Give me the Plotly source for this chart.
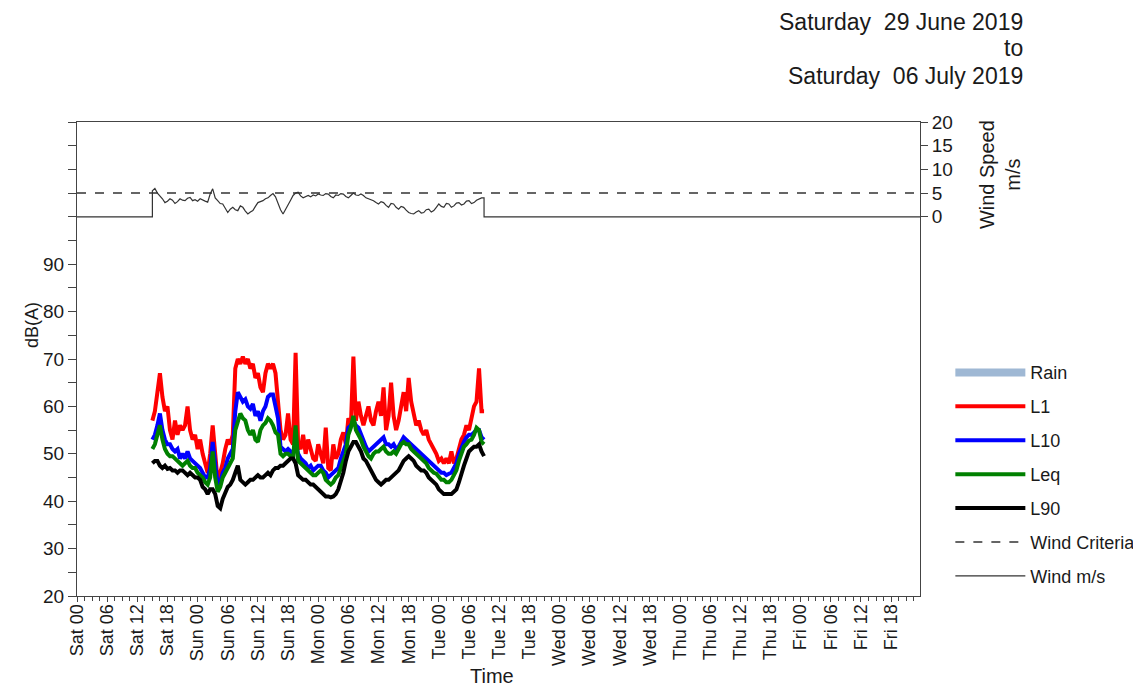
import pandas as pd
import plotly.graph_objects as go

# ---------------- data ----------------
AXIS_START = "2019-06-29 00:00"
AXIS_END = "2019-07-05 23:45"
DATA_START = "2019-06-29 15:00"
STEP = "30min"

L1 = [57, 59, 63, 67, 62, 59, 60, 55, 53, 57,
      54, 56, 55, 56, 60, 55, 53, 54, 51, 53,
      50, 48, 46, 50, 56, 50, 44, 46, 48, 51,
      53, 52, 54, 68, 70, 69, 70.5, 69, 70, 68,
      69, 66, 67, 64, 63, 67, 69, 68, 69, 67,
      60, 55, 53, 54, 58.5, 53, 52, 71.3, 52, 51,
      54, 50, 53, 51, 49, 48.5, 52, 50, 48, 55.5,
      47, 46.5, 52, 49, 50, 53, 54.5, 52, 57.5, 56,
      70.5, 57, 61, 58, 56, 58, 60, 57, 56, 59,
      61, 58, 64, 55, 58, 65, 58, 55, 57, 60,
      63, 59, 66, 61, 58, 56, 57, 55, 54, 55,
      53, 52, 51, 50, 48.5, 49, 48, 49, 48, 50.5,
      48, 49, 51, 53, 54, 56, 55, 58, 60, 61,
      68, 59, 59]

L10 = [53, 54, 56, 58.5, 55, 53, 52, 52, 51, 50.5,
       51, 49, 50, 49, 50.5, 49, 48.5, 48, 47.5, 47,
       46, 45, 45, 47, 52.5, 47, 43.5, 44, 46, 47,
       49, 50, 51, 59, 63, 62, 61, 61.5, 60, 59.5,
       60.5, 58, 59, 57, 59, 60, 62, 62.5, 62.5, 60,
       57.5, 51.5, 51, 50.5, 51, 50.5, 50, 52.5, 50, 49,
       48.5, 48, 47, 47.5, 46.5, 47, 47.5, 47.5, 46.5, 46,
       45, 45.5, 46, 46.5, 47, 49, 50.5, 52, 55.5, 56,
       57, 56, 55.5, 54, 53, 51.5, 50.5, 51, 51.5, 52,
       52.5, 53, 53.5, 52, 52, 51.5, 52, 51, 51.5, 52.5,
       53.5, 53, 52.5, 52, 51.5, 51, 50.5, 50, 49.5, 49,
       48.5, 48, 47.5, 47, 46.5, 46, 46, 45.5, 45.8, 46,
       47, 48, 50, 51.5, 52.5, 53.5, 54, 54, 54.5, 55,
       55, 53.5, 53]

LEQ = [51, 52, 54, 56, 53, 51, 50, 49.5, 49.5, 49,
       48.5, 48, 47.5, 48, 48.5, 47.5, 47, 47, 46, 45.5,
       45, 44, 43.5, 45, 50.5, 45, 42, 43, 45, 46,
       47, 48, 49, 55, 57, 58.5, 57.5, 57, 55, 54,
       55, 53, 52.5, 55, 56, 56.5, 57.5, 57, 56, 54.5,
       54, 50, 49.5, 50, 50, 49.5, 49, 56, 48.5, 48,
       47.5, 47, 46.5, 46, 45.5, 45.5, 46, 46.5, 46, 44.5,
       44, 43.5, 44, 45, 45.5, 47, 48.5, 50, 54, 55.5,
       58, 55, 54, 53, 51.5, 50.5, 49.5, 49, 50, 50.5,
       50.5, 51, 51.5, 50.5, 50, 50, 50.5, 50, 51, 52,
       52.5, 52, 52, 51, 50.5, 50, 49.5, 49, 48.5, 48,
       47, 46.5, 46, 45.8, 45, 44.5, 44.5, 44, 44, 44.5,
       45.5, 46.5, 48.5, 50, 51.5, 52, 52.8, 53, 54, 55.5,
       55, 52.5, 52]

L90 = [48, 48.5, 48.5, 47.5, 47, 47.5, 46.8, 47, 46.5, 46.5,
       46, 46.5, 46.5, 46, 45.5, 46, 45.5, 45, 45, 44.5,
       43, 42.5, 41.5, 42.5, 42.5, 41.5, 39, 38.5, 40.5, 42,
       43, 43.5, 44.5, 46, 47.5, 44.5, 44, 43.5, 44, 44.5,
       44.5, 45, 45.5, 45, 45, 45.5, 46, 45.5, 46.5, 47,
       47, 47.5, 47.5, 48, 48.5, 49, 49, 48, 45.5, 45,
       44.5, 44.5, 44, 43.5, 43.5, 43, 42.5, 42, 41.5, 41,
       41, 40.8, 41, 41.5, 42.5, 44, 46, 48.5, 50.5, 51.5,
       52.5, 52.5, 51.5, 50.5, 49, 48.5, 47.5, 46.5, 45.5, 44.5,
       44, 43.5, 44, 44.5, 44.5, 45, 45.5, 46, 46.5, 47.5,
       48.5, 49, 49.5, 49, 48.5, 47.5, 47, 46.5, 46.5, 46,
       45, 44.5, 44, 43.5, 42.5, 42, 41.5, 41.5, 41.5, 41.5,
       42, 42.5, 44, 46, 47.5, 49, 50.5, 51, 51.5, 51.5,
       52, 50.5, 49.5]

WIND = [5.5, 6.0, 5.0, 4.5, 3.8, 3.0, 3.3, 3.8, 3.5, 2.8,
        3.2, 3.8, 3.5, 3.4, 3.9, 4.1, 3.4, 3.6, 3.3, 3.8,
        3.5, 3.3, 3.1, 4.8, 5.9, 4.0, 3.4, 2.8, 2.7, 1.8,
        0.9, 1.6, 2.0, 1.5, 1.3, 2.3, 2.0, 1.2, 0.6, 1.0,
        1.3, 2.2, 3.0, 3.2, 3.4, 3.8, 4.0, 4.5, 4.9, 4.2,
        2.7, 1.5, 0.6, 1.5, 2.3, 3.5, 4.5, 5.0, 5.2, 4.4,
        4.0, 4.3, 4.5, 4.2, 4.6, 4.4, 4.8, 4.6, 4.5, 4.9,
        4.8, 4.3, 4.0, 4.6, 4.5, 4.9, 4.8, 4.3, 4.0, 4.5,
        5.0, 4.6, 4.5, 4.8, 4.5, 4.0, 3.8, 3.5, 3.4, 3.0,
        2.7, 3.2, 3.0, 2.4, 2.0, 2.8, 2.7, 2.0, 1.6, 2.2,
        2.0, 1.4, 0.9, 0.7, 0.6, 1.0, 1.3, 0.8, 0.9, 1.5,
        1.6, 1.0, 1.3, 2.0, 2.7, 2.2, 2.0, 2.8, 2.7, 2.0,
        2.3, 2.9, 3.0, 2.5, 2.7, 3.3, 3.4, 2.8, 3.0, 3.5,
        3.8, 4.0, 4.0]
WIND_NO_DATA = 0.0
WIND_CRITERIA = 5.0

DB_TICKS = list(range(20, 125, 5))
DB_LABELS = [str(v) if (v % 10 == 0 and v <= 90) else "" for v in DB_TICKS]
WIND_TICKS = [0, 5, 10, 15, 20]

TITLE_LINES = ["Saturday  29 June 2019", "to", "Saturday  06 July 2019"]

# ---------------- figure ----------------
FONT = "Liberation Sans, Arial, sans-serif"
TXT = "#1a1a1a"
times = pd.date_range(DATA_START, periods=len(L1), freq=STEP)
end_data = times[-1]
axis_end_full = pd.Timestamp("2019-07-06 00:00")

wind_x = [pd.Timestamp(AXIS_START), pd.Timestamp(DATA_START)] + list(times) + [end_data, axis_end_full]
wind_y = [WIND_NO_DATA, WIND_NO_DATA] + WIND + [WIND_NO_DATA, WIND_NO_DATA]

fig = go.Figure()
fig.add_trace(go.Scatter(x=[None], y=[None], name="Rain", mode="lines",
                         line=dict(color="#9fb8d4", width=8), legendgroup="rain"))
series = [("L1", L1, "#ff0000"), ("L10", L10, "#0000ff"),
          ("Leq", LEQ, "#008000"), ("L90", L90, "#000000")]
for name, vals, col in series:
    fig.add_trace(go.Scatter(x=times, y=vals, name=name, mode="lines",
                             line=dict(color=col, width=4), legendgroup=name))
fig.add_trace(go.Scatter(x=[pd.Timestamp(AXIS_START), axis_end_full],
                         y=[WIND_CRITERIA, WIND_CRITERIA], yaxis="y2",
                         name="Wind Criteria", mode="lines",
                         line=dict(color="#333333", width=1.5, dash="dash"),
                         legendgroup="wc"))
fig.add_trace(go.Scatter(x=wind_x, y=wind_y, yaxis="y2", name="Wind m/s", mode="lines",
                         line=dict(color="#333333", width=1.2), legendgroup="wind"))

axis_col = "#444444"
fig.update_layout(
    width=1133, height=680,
    margin=dict(l=69, r=221, t=114, b=92, autoexpand=False),
    paper_bgcolor="white", plot_bgcolor="white",
    font=dict(family=FONT, color=TXT),
    showlegend=True,
    legend=dict(x=1.036, y=0.51, xanchor="left", yanchor="top",
                font=dict(size=18, family=FONT, color=TXT),
                tracegroupgap=7.5, itemwidth=70, bgcolor="rgba(0,0,0,0)"),
    xaxis=dict(type="date", range=[AXIS_START, AXIS_END],
               tick0=AXIS_START, dtick=6 * 3600 * 1000, tickformat="%a %H",
               tickangle=-90, ticks="outside", ticklen=5, tickcolor=axis_col,
               tickfont=dict(size=18, family=FONT, color=TXT),
               ticklabelstandoff=-5,
               showline=True, linecolor=axis_col, linewidth=1, mirror=True,
               showgrid=False, zeroline=False,
               minor=dict(dtick=5400000, ticks="outside", ticklen=4,
                          tickcolor=axis_col, showgrid=False)),
    yaxis=dict(range=[20, 120], tickmode="array", tickvals=DB_TICKS, ticktext=DB_LABELS,
               ticks="outside", ticklen=8, tickcolor=axis_col,
               tickfont=dict(size=19, family=FONT, color=TXT),
               showline=True, linecolor=axis_col, linewidth=1, mirror=True,
               showgrid=False, zeroline=False),
    yaxis2=dict(range=[-80, 20], overlaying="y", side="right",
                tickmode="array", tickvals=WIND_TICKS,
                ticks="outside", ticklen=7, tickcolor=axis_col,
                tickfont=dict(size=19, family=FONT, color=TXT),
                showline=False, showgrid=False, zeroline=False),
)

ys = [1.2110, 1.1560, 1.0970]
for txt, yy in zip(TITLE_LINES, ys):
    fig.add_annotation(text=txt, x=1.1245, y=yy, xref="paper", yref="paper",
                       xanchor="right", yanchor="middle", showarrow=False,
                       font=dict(size=23, family=FONT, color=TXT))
fig.add_annotation(text="dB(A)", x=-0.0535, y=0.5717, xref="paper", yref="paper",
                   textangle=-90, showarrow=False, xanchor="center", yanchor="middle",
                   font=dict(size=18, family=FONT, color=TXT))
fig.add_annotation(text="Time", x=0.4923, y=-0.1688, xref="paper", yref="paper",
                   showarrow=False, xanchor="center", yanchor="middle",
                   font=dict(size=20, family=FONT, color=TXT))
fig.add_annotation(text="Wind Speed<br>m/s", x=1.0949, y=0.888, xref="paper", yref="paper",
                   textangle=-90, showarrow=False, xanchor="center", yanchor="middle",
                   font=dict(size=20, family=FONT, color=TXT))

fig.write_html("out.html")
